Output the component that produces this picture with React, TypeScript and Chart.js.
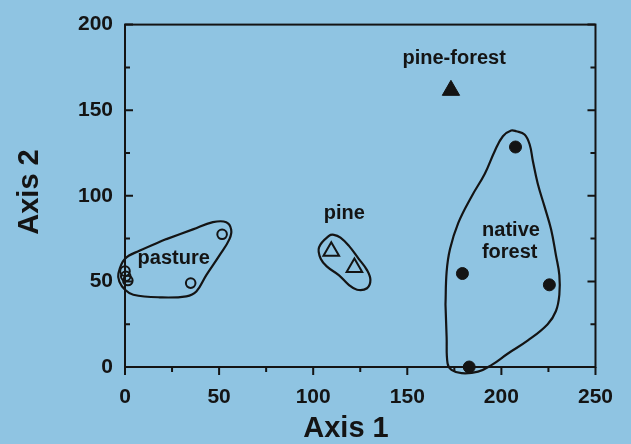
import React, { useEffect, useRef } from "react";
import { Chart, registerables } from "chart.js";

Chart.register(...registerables);

// ---- data ----
const xTicks = [0, 50, 100, 150, 200, 250];
const yTicks = [0, 50, 100, 150, 200];
const xMinor = [25, 75, 125, 175, 225];
const yMinor = [25, 75, 125, 175];

const pasturePts = [
  { x: 51.6, y: 77.5 },
  { x: 34.9, y: 49 },
  { x: 0, y: 56 },
  { x: 0.4, y: 53 },
  { x: 1.5, y: 50.5 },
];
const pinePts = [
  { x: 109.6, y: 67.6 },
  { x: 121.9, y: 58.1 },
];
const pineForestPts = [{ x: 173.2, y: 161.6 }];
const nativePts = [
  { x: 207.5, y: 128.5 },
  { x: 179.3, y: 54.6 },
  { x: 225.5, y: 48 },
  { x: 182.9, y: 0 },
];

const pastureHull = [
  { x: 22, y: 74.7 }, { x: 36.1, y: 80.4 }, { x: 46.7, y: 84.6 }, { x: 53.8, y: 84.6 },
  { x: 56.4, y: 80.4 }, { x: 55.5, y: 74.7 }, { x: 50.2, y: 65.2 }, { x: 43.2, y: 53.7 },
  { x: 37.9, y: 44.1 }, { x: 32.6, y: 41.3 }, { x: 18.5, y: 40.7 }, { x: 4.4, y: 42.2 },
  { x: 0, y: 45.1 }, { x: -3, y: 49.9 }, { x: -3.5, y: 54.6 }, { x: 0, y: 63.2 },
  { x: 7.9, y: 68 },
];
const pineHull = [
  { x: 124.2, y: 63.2 }, { x: 118.9, y: 70.9 }, { x: 114.5, y: 75.6 }, { x: 111, y: 77.2 },
  { x: 108.4, y: 76.6 }, { x: 103.1, y: 69.9 }, { x: 104, y: 63.2 }, { x: 107.5, y: 58.5 },
  { x: 113.6, y: 53.7 }, { x: 118.9, y: 48 }, { x: 123.3, y: 45.1 }, { x: 128.6, y: 46 },
  { x: 130.4, y: 50.8 }, { x: 128.6, y: 56.6 },
];
const nativeHull = [
  { x: 170.3, y: 36.5 }, { x: 170.9, y: 17.4 }, { x: 171.4, y: 2.1 }, { x: 173.5, y: -1.7 },
  { x: 178.8, y: -3.6 }, { x: 187.6, y: -2.7 }, { x: 194.7, y: 1.1 }, { x: 203.5, y: 7.9 },
  { x: 214.1, y: 15.5 }, { x: 224.6, y: 25 }, { x: 229, y: 32.7 }, { x: 230.8, y: 42.2 },
  { x: 230.8, y: 53.7 }, { x: 229, y: 65.2 }, { x: 226.4, y: 80.4 }, { x: 222.9, y: 93.8 },
  { x: 219.3, y: 107.2 }, { x: 216.7, y: 120.5 }, { x: 215, y: 130.1 }, { x: 212.3, y: 135.8 },
  { x: 207.9, y: 137.7 }, { x: 205.2, y: 138.1 }, { x: 200.8, y: 134.8 }, { x: 196.5, y: 126.2 },
  { x: 191.2, y: 112.9 }, { x: 184.1, y: 99.5 }, { x: 177.1, y: 84.2 }, { x: 172.7, y: 68.9 },
  { x: 170.9, y: 55.6 },
];

const groupLabels = [
  { text: "pasture", x: 25.9, y: 60.3 },
  { text: "pine", x: 116.5, y: 86.5 },
  { text: "pine-forest", x: 174.9, y: 176.9 },
  { text: "native", x: 205.1, y: 76.6 },
  { text: "forest", x: 204.4, y: 63.6 },
];

const xTitle = "Axis 1";
const yTitle = "Axis 2";

const FONT = "'Liberation Sans', Arial, Helvetica, sans-serif";
const INK = "#141414";
const BG = "#8fc4e2";

const close = (pts: { x: number; y: number }[]) => [...pts, pts[0]];

export default function App() {
  const ref = useRef<HTMLCanvasElement>(null);

  useEffect(() => {
    if (!ref.current) return;

    const decor = {
      id: "decor",
      afterDatasetsDraw(chart: any) {
        const { ctx, chartArea: a, scales } = chart;
        const xs = scales.x;
        const ys = scales.y;
        ctx.save();
        ctx.strokeStyle = INK;
        ctx.lineWidth = 2;
        ctx.strokeRect(a.left, a.top, a.right - a.left, a.bottom - a.top);
        ctx.beginPath();
        for (const v of xTicks) {
          const px = xs.getPixelForValue(v);
          ctx.moveTo(px, a.bottom);
          ctx.lineTo(px, a.bottom + 8);
        }
        for (const v of xMinor) {
          const px = xs.getPixelForValue(v);
          ctx.moveTo(px, a.bottom);
          ctx.lineTo(px, a.bottom + 5);
        }
        for (const v of yTicks) {
          const py = ys.getPixelForValue(v);
          ctx.moveTo(a.left, py);
          ctx.lineTo(a.left + 8, py);
          ctx.moveTo(a.right, py);
          ctx.lineTo(a.right - 8, py);
        }
        for (const v of yMinor) {
          const py = ys.getPixelForValue(v);
          ctx.moveTo(a.left, py);
          ctx.lineTo(a.left + 5, py);
          ctx.moveTo(a.right, py);
          ctx.lineTo(a.right - 5, py);
        }
        ctx.stroke();

        ctx.fillStyle = INK;
        ctx.font = `bold 20px ${FONT}`;
        ctx.textAlign = "center";
        ctx.textBaseline = "alphabetic";
        for (const l of groupLabels) {
          ctx.fillText(l.text, xs.getPixelForValue(l.x), ys.getPixelForValue(l.y));
        }

        ctx.font = `bold 29px ${FONT}`;
        ctx.fillText(xTitle, 346, 437);
        ctx.save();
        ctx.translate(38, 192);
        ctx.rotate(-Math.PI / 2);
        ctx.fillText(yTitle, 0, 0);
        ctx.restore();
        ctx.restore();
      },
    };

    const hullStyle = {
      showLine: true,
      pointRadius: 0,
      borderColor: INK,
      borderWidth: 2.2,
      tension: 0.4,
      fill: false,
      clip: false,
    };

    const chart = new Chart(ref.current, {
      type: "scatter",
      data: {
        datasets: [
          { ...hullStyle, data: close(pastureHull) },
          { ...hullStyle, data: close(pineHull) },
          { ...hullStyle, data: close(nativeHull) },
          {
            data: pasturePts,
            pointStyle: "circle",
            pointRadius: 4.8,
            backgroundColor: "rgba(0,0,0,0)",
            borderColor: INK,
            borderWidth: 2,
            clip: false,
          },
          {
            data: pinePts,
            pointStyle: "triangle",
            pointRadius: 9,
            backgroundColor: "rgba(0,0,0,0)",
            borderColor: INK,
            borderWidth: 2,
            clip: false,
          },
          {
            data: pineForestPts,
            pointStyle: "triangle",
            pointRadius: 10,
            backgroundColor: INK,
            borderColor: INK,
            borderWidth: 1,
            clip: false,
          },
          {
            data: nativePts,
            pointStyle: "circle",
            pointRadius: 6,
            backgroundColor: INK,
            borderColor: INK,
            borderWidth: 1,
            clip: false,
          },
        ] as any,
      },
      options: {
        animation: false,
        responsive: false,
        devicePixelRatio: 1,
        layout: { padding: { top: 18, right: 33, left: 0, bottom: 0 } },
        elements: { line: { capBezierPoints: false } as any },
        plugins: {
          legend: { display: false },
          tooltip: { enabled: false },
        },
        scales: {
          x: {
            type: "linear",
            min: 0,
            max: 250,
            ticks: {
              stepSize: 50,
              color: INK,
              padding: 18,
              maxRotation: 0,
              autoSkip: false,
              font: { family: FONT, size: 21, weight: "bold" },
            },
            grid: { display: false, drawTicks: false },
            border: { display: false },
            afterFit(s: any) {
              s.height = 77;
            },
          },
          y: {
            type: "linear",
            min: 0,
            max: 200,
            ticks: {
              stepSize: 50,
              color: INK,
              padding: 12,
              font: { family: FONT, size: 21, weight: "bold" },
            },
            grid: { display: false, drawTicks: false },
            border: { display: false },
            afterFit(s: any) {
              s.width = 125;
            },
          },
        },
      } as any,
      plugins: [decor],
    });

    return () => chart.destroy();
  }, []);

  return (
    <div
      style={{
        position: "fixed",
        left: 0,
        top: 0,
        width: 631,
        height: 444,
        background: BG,
      }}
    >
      <canvas ref={ref} width={631} height={444} style={{ display: "block" }} />
    </div>
  );
}
